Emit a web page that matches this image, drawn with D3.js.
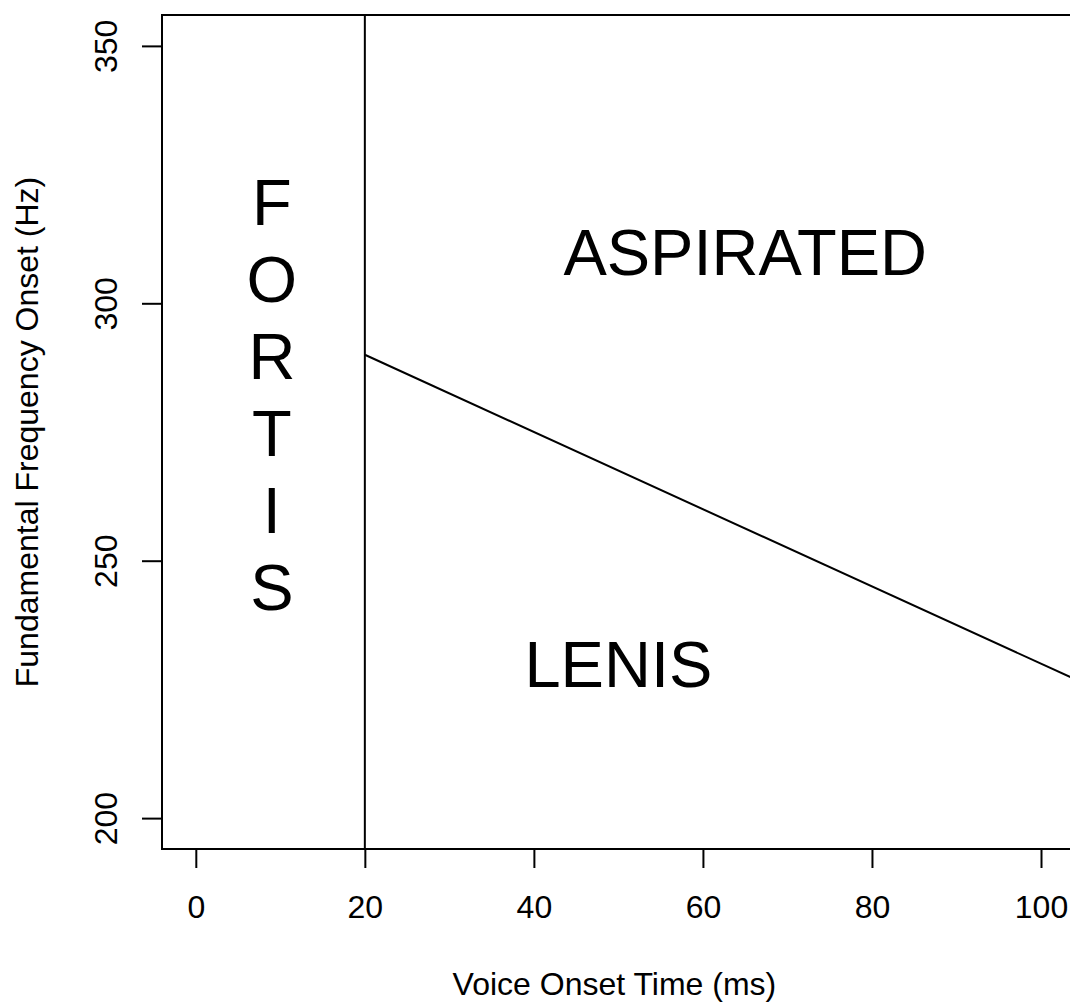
<!DOCTYPE html>
<html>
<head>
<meta charset="utf-8">
<script src="https://cdn.jsdelivr.net/npm/d3@7"></script>
<style>
  html, body { margin: 0; padding: 0; background: #fff; }
  svg { display: block; }
  text { font-family: "Liberation Sans", Arial, Helvetica, sans-serif; fill: #000; }
</style>
</head>
<body>
<svg id="chart" width="1070" height="1004"></svg>
<script>
// ---- data ----
const xTicks = [0, 20, 40, 60, 80, 100];
const yTicks = [200, 250, 300, 350];
const xDomain = [-4, 104];
const yDomain = [194, 356];
const xTitle = "Voice Onset Time (ms)";
const yTitle = "Fundamental Frequency Onset (Hz)";
// boundary: vertical line at VOT = 20
const vBoundaryX = 20;
// sloped boundary: f0 = intercept + slope * VOT, starting at VOT = 20
const slopedIntercept = 305;
const slopedSlope = -0.75;
const slopedStartX = 20;
// region labels
const regionLabels = [
  { text: "ASPIRATED", x: 65, y: 310 },
  { text: "LENIS", x: 50, y: 230 }
];
const fortisLetters = ["F", "O", "R", "T", "I", "S"];
const fortisPos = { x: 9, y: 282.4 };

// ---- layout ----
const svg = d3.select("#chart");
const plotLeft = 162, plotTop = 15;
const x = d3.scaleLinear().domain(xDomain).range([plotLeft, 195.7 + 104 * 8.453]);
const y = d3.scaleLinear().domain(yDomain).range([849, plotTop]);
const plotRight = x(xDomain[1]), plotBottom = y(yDomain[0]);

svg.append("defs").append("clipPath").attr("id", "clip")
  .append("rect").attr("x", plotLeft).attr("y", plotTop)
  .attr("width", plotRight - plotLeft).attr("height", plotBottom - plotTop);

// box
svg.append("rect")
  .attr("x", plotLeft).attr("y", plotTop)
  .attr("width", plotRight - plotLeft).attr("height", plotBottom - plotTop)
  .attr("fill", "none").attr("stroke", "#000").attr("stroke-width", 2);

// x axis
const xAxis = svg.append("g").attr("transform", `translate(0,${plotBottom})`)
  .call(d3.axisBottom(x).tickValues(xTicks).tickSize(19).tickFormat(d3.format("d")));
xAxis.select(".domain").remove();
xAxis.selectAll(".tick line").attr("stroke", "#000").attr("stroke-width", 2);
xAxis.selectAll(".tick text").attr("font-size", 32).attr("font-family", "Liberation Sans, Arial, sans-serif").attr("fill", "#000")
  .attr("dy", null).attr("y", 69);

// y axis
const yAxis = svg.append("g").attr("transform", `translate(${plotLeft},0)`)
  .call(d3.axisLeft(y).tickValues(yTicks).tickSize(20).tickFormat(d3.format("d")));
yAxis.select(".domain").remove();
yAxis.selectAll(".tick line").attr("stroke", "#000").attr("stroke-width", 2);
yAxis.selectAll(".tick text")
  .attr("font-size", 32).attr("font-family", "Liberation Sans, Arial, sans-serif").attr("fill", "#000")
  .attr("x", null).attr("dy", null)
  .attr("text-anchor", "middle")
  .attr("transform", "translate(-45,0) rotate(-90)");

// axis titles
svg.append("text").attr("x", (plotLeft + plotRight) / 2 - 4).attr("y", 995)
  .attr("text-anchor", "middle").attr("font-size", 32).text(xTitle);
svg.append("text")
  .attr("transform", `translate(38,${(plotTop + plotBottom) / 2}) rotate(-90)`)
  .attr("text-anchor", "middle").attr("font-size", 32).text(yTitle);

// boundaries
const g = svg.append("g").attr("clip-path", "url(#clip)");
g.append("line")
  .attr("x1", x(vBoundaryX)).attr("x2", x(vBoundaryX))
  .attr("y1", plotTop).attr("y2", plotBottom)
  .attr("stroke", "#000").attr("stroke-width", 2);
const line = d3.line().x(d => x(d)).y(d => y(slopedIntercept + slopedSlope * d));
g.append("path").datum([slopedStartX, xDomain[1]])
  .attr("d", line).attr("fill", "none").attr("stroke", "#000").attr("stroke-width", 2);

// region labels
svg.selectAll(".region").data(regionLabels).enter().append("text")
  .attr("class", "region")
  .attr("x", d => x(d.x)).attr("y", d => y(d.y))
  .attr("dy", "0.358em")
  .attr("text-anchor", "middle").attr("font-size", 65)
  .text(d => d.text);

// FORTIS vertical
const lineH = 77;
const n = fortisLetters.length;
svg.selectAll(".fortis").data(fortisLetters).enter().append("text")
  .attr("class", "fortis")
  .attr("x", x(fortisPos.x))
  .attr("y", (d, i) => y(fortisPos.y) + (i - (n - 1) / 2) * lineH)
  .attr("dy", "0.358em")
  .attr("text-anchor", "middle").attr("font-size", 65)
  .text(d => d);
</script>
</body>
</html>
